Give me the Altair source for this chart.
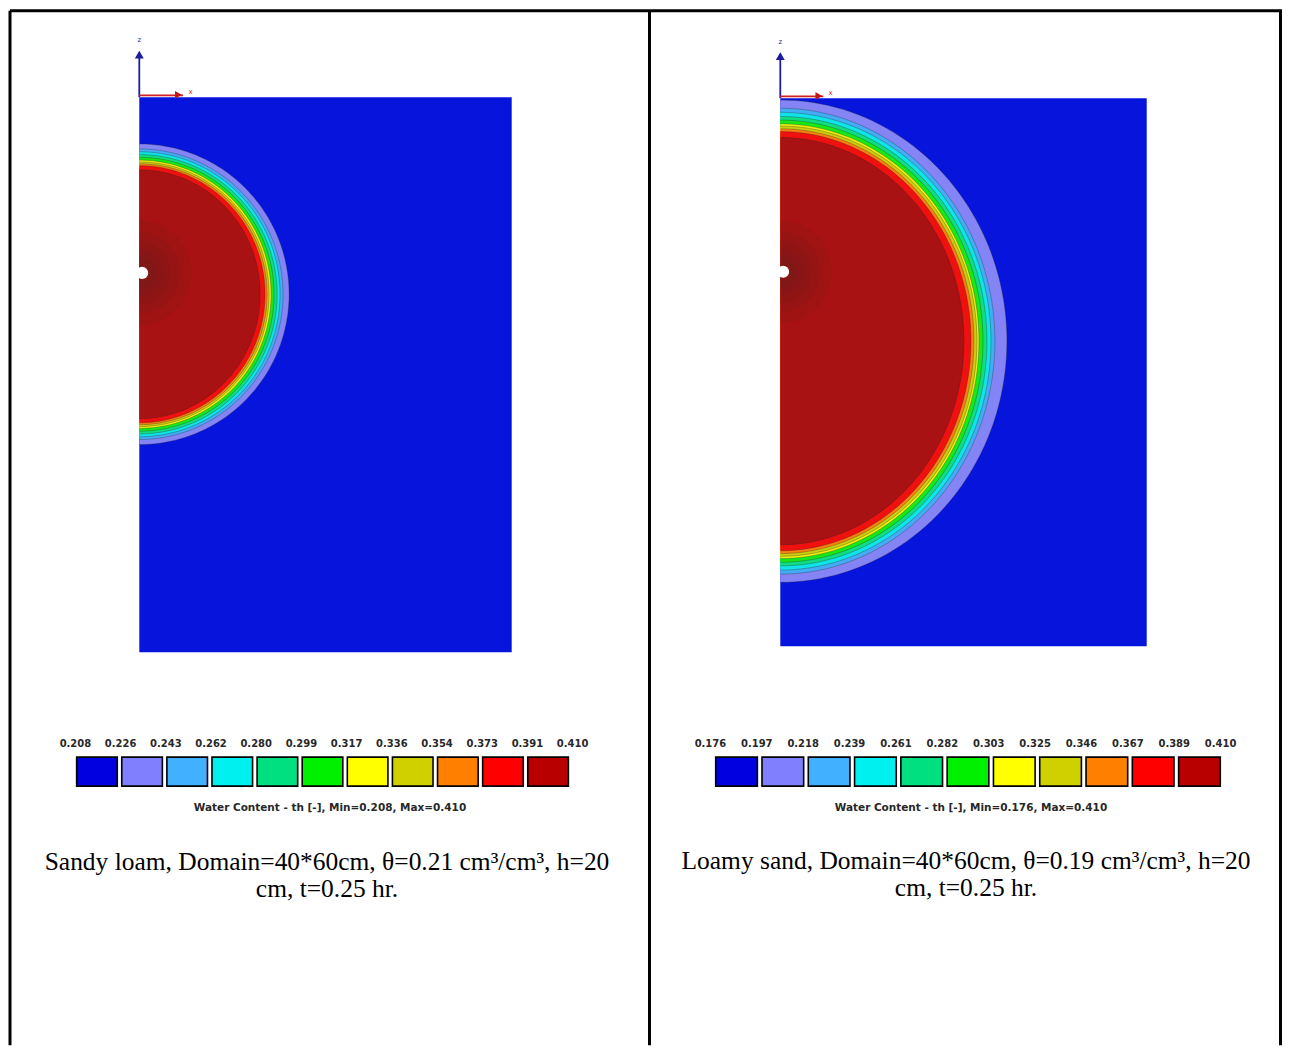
import math
import altair as alt
import pandas as pd

# ---------------- data ----------------
COLORS = ["#0000e0", "#8080ff", "#40b0ff", "#00f0f0", "#00e080", "#00f000",
          "#ffff00", "#d0d000", "#ff8000", "#ff0000", "#b80000"]
FIELD_COLORS = ["#0614dc", "#8484f4", "#44acf4", "#10e4e8", "#10dc84", "#18e818",
                "#f0f010", "#cccc10", "#f88010", "#f01010", "#a81212"]

LEFT_LEVELS = ["0.208", "0.226", "0.243", "0.262", "0.280", "0.299",
               "0.317", "0.336", "0.354", "0.373", "0.391", "0.410"]
RIGHT_LEVELS = ["0.176", "0.197", "0.218", "0.239", "0.261", "0.282",
                "0.303", "0.325", "0.346", "0.367", "0.389", "0.410"]

# wetting-front contours (outer edge of each coloured band, k = 1..10), cm
LEFT_A = [16.09, 15.44, 15.12, 14.80, 14.48, 14.16, 13.94, 13.73, 13.51, 12.98]
LEFT_B = [16.25, 15.70, 15.40, 15.10, 14.80, 14.50, 14.30, 14.10, 13.90, 13.45]
LEFT_ZC = -21.3
RIGHT_A = [24.74, 23.43, 23.00, 22.56, 22.13, 21.69, 21.47, 21.14, 20.82, 20.05]
RIGHT_B = [26.40, 25.50, 25.05, 24.60, 24.20, 23.80, 23.55, 23.25, 22.95, 22.30]
RIGHT_ZC = -26.6

SOURCE_Z = -19.0
SHADE_R_CM = [5.6, 4.4, 3.4, 2.5, 1.7]

LEFT_TITLE = "Water Content  - th [-], Min=0.208, Max=0.410"
RIGHT_TITLE = "Water Content  - th [-], Min=0.176, Max=0.410"
LEFT_CAPTION = "Sandy loam, Domain=40*60cm, \u03b8=0.21 cm\u00b3/cm\u00b3, h=20\ncm, t=0.25 hr."
RIGHT_CAPTION = "Loamy sand, Domain=40*60cm, \u03b8=0.19 cm\u00b3/cm\u00b3, h=20\ncm, t=0.25 hr."

H = 1036


def panel(W, levels, A, B, zc, title, caption, geo, border):
    x0, x1, yt, yb = geo["x0"], geo["x1"], geo["yt"], geo["yb"]
    px_per_cm = (x1 - x0) / 40.0
    xs = alt.Scale(domain=[0, 40], range=[x0, x1], nice=False, zero=False)
    ys = alt.Scale(domain=[-60, 0], range=[yb, yt], nice=False, zero=False)
    layers = []

    dom = pd.DataFrame({"x": [0], "x2": [40], "z": [-60], "z2": [0]})
    layers.append(alt.Chart(dom).mark_rect(color=FIELD_COLORS[0]).encode(
        x=alt.X("x:Q", scale=xs, axis=None), x2="x2:Q",
        y=alt.Y("z:Q", scale=ys, axis=None), y2="z2:Q"))

    bands = pd.DataFrame({"k": list(range(1, 11)), "a": A, "b": B, "zc": [zc] * 10})

    def shaped(ch):
        return ch.transform_calculate(t="sequence(0, 181, 2)").transform_flatten(
            ["t"]).transform_calculate(
            x="datum.a*sin(datum.t*PI/180)",
            z="min(0, datum.zc + datum.b*cos(datum.t*PI/180))",
            x0="0")

    for k in range(1, 11):
        ch = alt.Chart(bands).transform_filter(alt.datum.k == k)
        layers.append(shaped(ch).mark_area(
            orient="horizontal", color=FIELD_COLORS[k], opacity=1).encode(
            y=alt.Y("z:Q", scale=ys, axis=None),
            x=alt.X("x:Q", scale=xs, axis=None, stack=None),
            x2="x0:Q"))

    layers.append(shaped(alt.Chart(bands)).mark_line(
        color="#202020", strokeWidth=0.6, opacity=0.5).encode(
        y=alt.Y("z:Q", scale=ys, axis=None),
        x=alt.X("x:Q", scale=xs, axis=None),
        detail="k:N", order="t:Q"))

    src = pd.DataFrame({"x": [0], "z": [SOURCE_Z]})
    for r in SHADE_R_CM:
        layers.append(alt.Chart(src).mark_arc(
            color="#3a2424", opacity=0.075, theta=0, theta2=math.pi,
            radius=r * px_per_cm).encode(
            x=alt.X("x:Q", scale=xs, axis=None),
            y=alt.Y("z:Q", scale=ys, axis=None)))

    dot = pd.DataFrame({"x": [0.3], "z": [SOURCE_Z]})
    layers.append(alt.Chart(dot).mark_point(
        shape="circle", filled=True, color="white", opacity=1, size=150).encode(
        x=alt.X("x:Q", scale=xs, axis=None), y=alt.Y("z:Q", scale=ys, axis=None)))

    # coordinate arrows
    vax = pd.DataFrame({"x": [0], "z": [0], "z2": [4.8]})
    layers.append(alt.Chart(vax).mark_rule(color="#1c1ca0", strokeWidth=1.8).encode(
        x=alt.X("x:Q", scale=xs, axis=None), y=alt.Y("z:Q", scale=ys, axis=None), y2="z2:Q"))
    vhead = pd.DataFrame({"x": [0], "z": [4.6]})
    layers.append(alt.Chart(vhead).mark_point(
        shape="triangle-up", filled=True, color="#1c1ca0", opacity=1, size=80).encode(
        x=alt.X("x:Q", scale=xs, axis=None), y=alt.Y("z:Q", scale=ys, axis=None)))
    hax = pd.DataFrame({"x": [0], "x2": [4.7], "z": [0.2]})
    layers.append(alt.Chart(hax).mark_rule(color="#d42020", strokeWidth=1.8).encode(
        x=alt.X("x:Q", scale=xs, axis=None), x2="x2:Q", y=alt.Y("z:Q", scale=ys, axis=None)))
    hhead = pd.DataFrame({"x": [4.2], "z": [0.25]})
    layers.append(alt.Chart(hhead).mark_point(
        shape="triangle-right", filled=True, color="#c01818", opacity=1, size=60).encode(
        x=alt.X("x:Q", scale=xs, axis=None), y=alt.Y("z:Q", scale=ys, axis=None)))
    labs = pd.DataFrame({"x": [0, 5.5], "z": [6.2, 0.6], "t": ["z", "x"],
                         "c": ["#1c1ca0", "#d42020"]})
    layers.append(alt.Chart(labs).mark_text(fontSize=7, font="DejaVu Sans").encode(
        x=alt.X("x:Q", scale=xs, axis=None), y=alt.Y("z:Q", scale=ys, axis=None),
        text="t:N", color=alt.Color("c:N", scale=None)))

    # legend
    leg = pd.DataFrame({"i": list(range(11)), "c": COLORS})
    leg["i0"] = leg["i"] + 0.05
    leg["i1"] = leg["i"] + 0.95
    layers.append(alt.Chart(leg).mark_rect(stroke="black", strokeWidth=1.6).encode(
        x=alt.X("i0:Q", scale=alt.Scale(domain=[0, 11], range=[geo["bx0"], geo["bx1"]],
                                        nice=False, zero=False), axis=None),
        x2="i1:Q",
        y=alt.value(geo["by0"]), y2=alt.value(geo["by1"]),
        color=alt.Color("c:N", scale=None)))
    lab = pd.DataFrame({"j": list(range(12)), "t": levels})
    layers.append(alt.Chart(lab).mark_text(
        font="DejaVu Sans", fontWeight="bold", fontSize=10, color="#282828").encode(
        x=alt.X("j:Q", scale=alt.Scale(domain=[0, 11], range=[geo["lx0"], geo["lx1"]],
                                       nice=False, zero=False), axis=None),
        y=alt.value(geo["ly"]), text="t:N"))
    layers.append(alt.Chart(pd.DataFrame({"t": [title]})).mark_text(
        font="DejaVu Sans", fontWeight="bold", fontSize=10.5, color="#282828").encode(
        x=alt.value(geo["tx"]), y=alt.value(geo["ty"]), text="t:N"))

    # caption
    layers.append(alt.Chart(pd.DataFrame({"t": [caption]})).mark_text(
        font="Liberation Serif", fontSize=25.5, color="black", lineBreak="\n",
        lineHeight=27, baseline="alphabetic").encode(
        x=alt.value(geo["cx"]), y=alt.value(geo["cy"]), text="t:N"))

    # table borders
    one = pd.DataFrame({"v": [0]})
    layers.append(alt.Chart(one).mark_rule(color="black", strokeWidth=3).encode(
        x=alt.value(0), x2=alt.value(W), y=alt.value(0)))
    for bx in border:
        layers.append(alt.Chart(one).mark_rule(color="black", strokeWidth=3).encode(
            x=alt.value(bx), y=alt.value(0), y2=alt.value(H)))

    return alt.layer(*layers).resolve_scale(
        x="independent", y="independent", color="independent"
    ).properties(width=W, height=H)


W1, W2 = 642, 632
left = panel(W1, LEFT_LEVELS, LEFT_A, LEFT_B, LEFT_ZC, LEFT_TITLE, LEFT_CAPTION,
             dict(x0=129.5, x1=502.5, yt=86.5, yb=642.5, bx0=64.5, bx1=561.5,
                  by0=747.5, by1=776.5, lx0=65.5, lx1=563.5, ly=734.5,
                  tx=320.5, ty=798.5, cx=317.5, cy=860.5),
             border=[0, W1 - 1.5])
right = panel(W2, RIGHT_LEVELS, RIGHT_A, RIGHT_B, RIGHT_ZC, RIGHT_TITLE, RIGHT_CAPTION,
              dict(x0=129.5, x1=496.5, yt=87.5, yb=636.5, bx0=62.5, bx1=572.5,
                   by0=747.5, by1=776.5, lx0=59.5, lx1=570.5, ly=734.5,
                   tx=320.5, ty=798.5, cx=315.5, cy=859.5),
              border=[W2 - 1.5])

chart = alt.hconcat(left, right, spacing=0, bounds="flush").properties(
    padding=0).configure_view(stroke=None)

chart.save("out.html", embed_options={"renderer": "svg", "actions": False})
